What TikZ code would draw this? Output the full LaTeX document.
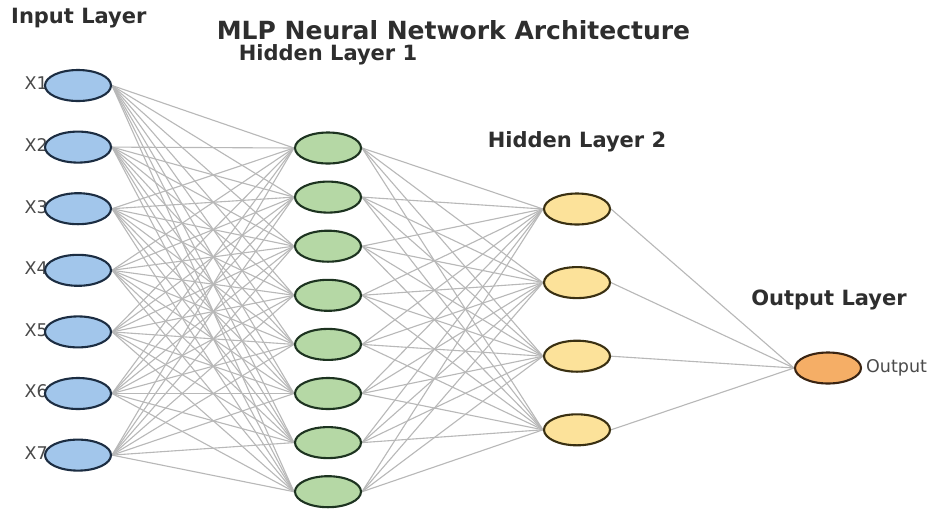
\documentclass[tikz,border=0pt]{standalone}
\usepackage{fontspec}
\setmainfont{DejaVu Sans}
\usetikzlibrary{shapes.geometric}

\pgfdeclarelayer{wires}
\pgfsetlayers{wires,main}

\definecolor{inFill}{HTML}{A2C6EB}
\definecolor{inLine}{HTML}{1C2D42}
\definecolor{hOneFill}{HTML}{B5D8A5}
\definecolor{hOneLine}{HTML}{1D3320}
\definecolor{hTwoFill}{HTML}{FCE29A}
\definecolor{hTwoLine}{HTML}{3A3012}
\definecolor{outFill}{HTML}{F5AE66}
\definecolor{outLine}{HTML}{3A2412}
\definecolor{wire}{HTML}{B8B8B8}
\definecolor{heading}{HTML}{2E2E2E}
\definecolor{tag}{HTML}{4A4A4A}

\tikzset{
  neuron/.style={ellipse, minimum width=66pt, minimum height=31pt, inner sep=0pt, line width=2.1pt},
  inneuron/.style={neuron, fill=inFill, draw=inLine},
  honeneuron/.style={neuron, fill=hOneFill, draw=hOneLine},
  htwoneuron/.style={neuron, fill=hTwoFill, draw=hTwoLine},
  outneuron/.style={neuron, fill=outFill, draw=outLine},
  wirestyle/.style={draw=wire, line width=1.1pt},
  layertitle/.style={font=\bfseries\fontsize{21}{21}\selectfont, text=heading, inner sep=0pt},
  maintitle/.style={font=\bfseries\fontsize{25}{25}\selectfont, text=heading, inner sep=0pt},
  unitlabel/.style={font=\fontsize{17.5}{17.5}\selectfont, text=tag, inner sep=0pt}
}

\begin{document}
\begin{tikzpicture}[x=1pt, y=-1pt]
  \useasboundingbox (0,0) rectangle (936,509);
  \begin{pgfonlayer}{wires}
    \fill[white] (0,0) rectangle (936,509);
  \end{pgfonlayer}

  % input labels, drawn before the neurons so the ellipses overlap them
  \foreach \k in {1,...,7}
    \node[unitlabel, anchor=east] (xl\k) at (48, {85.5 + (\k-1)*61.6 - 2}) {X\k};

  % input layer
  \foreach \k in {1,...,7}
    \node[inneuron] (i\k) at (78, {85.5 + (\k-1)*61.6}) {};
  % hidden layer 1
  \foreach \k in {1,...,8}
    \node[honeneuron] (h\k) at (328, {148 + (\k-1)*49.1}) {};
  % hidden layer 2
  \foreach \k in {1,...,4}
    \node[htwoneuron] (g\k) at (577, {209 + (\k-1)*73.6}) {};
  % output neuron
  \node[outneuron] (o) at (828, 368) {};
  \node[unitlabel, anchor=west] (outtag) at (866, 368) {Output};

  % fully connected wiring, kept beneath the neurons
  \begin{pgfonlayer}{wires}
    \foreach \a in {1,...,7} \foreach \b in {1,...,8}
      \draw[wirestyle] (i\a.east) -- (h\b.west);
    \foreach \a in {1,...,8} \foreach \b in {1,...,4}
      \draw[wirestyle] (h\a.east) -- (g\b.west);
    \foreach \a in {1,...,4}
      \draw[wirestyle] (g\a.east) -- (o.west);
  \end{pgfonlayer}

  % headings
  \node[maintitle] (title) at (453.5, 30) {MLP Neural Network Architecture};
  \node[layertitle, anchor=west] (tin) at (11, 18) {Input Layer};
  \node[layertitle] (th1) at (328, 55) {Hidden Layer 1};
  \node[layertitle] (th2) at (577, 142) {Hidden Layer 2};
  \node[layertitle] (tout) at (829, 300) {Output Layer};
\end{tikzpicture}
\end{document}
